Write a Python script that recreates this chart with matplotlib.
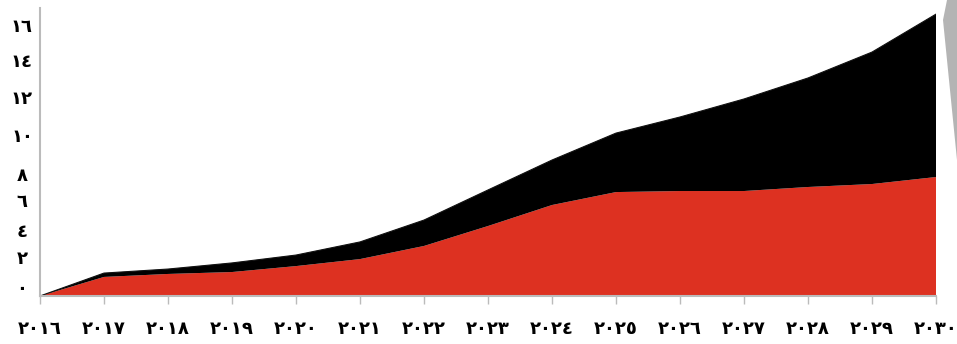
import matplotlib
matplotlib.use("Agg")
import matplotlib.pyplot as plt
from matplotlib.patches import Polygon

# years on the x axis and their Arabic-Indic labels
years = list(range(2016, 2031))
year_labels = ["٢٠١٦", "٢٠١٧", "٢٠١٨", "٢٠١٩", "٢٠٢٠", "٢٠٢١", "٢٠٢٢", "٢٠٢٣",
               "٢٠٢٤", "٢٠٢٥", "٢٠٢٦", "٢٠٢٧", "٢٠٢٨", "٢٠٢٩", "٢٠٣٠"]

# lower (red) layer and total height
red_vals = [0, 1.09, 1.26, 1.37, 1.71, 2.11, 2.86, 4.0, 5.2, 5.94, 6.0, 6.0, 6.23, 6.4, 6.8]
total_vals = [0, 1.31, 1.54, 1.89, 2.34, 3.09, 4.34, 6.06, 7.77, 9.31, 10.23, 11.26, 12.46, 13.94, 16.11]
black_vals = [t - r for t, r in zip(total_vals, red_vals)]

# y labels sit where the original put them (not evenly spaced)
ytick_pos = [0.51, 2.23, 3.77, 5.49, 6.97, 9.2, 11.37, 13.49, 15.49]
ytick_labels = ["٠", "٢", "٤", "٦", "٨", "١٠", "١٢", "١٤", "١٦"]

W, H = 957, 344
fig = plt.figure(figsize=(W / 100, H / 100), dpi=100)
ax = fig.add_axes([40 / W, (H - 296) / H, (936 - 40) / W, (296 - 8) / H])

ax.stackplot(years, red_vals, black_vals, colors=["#DD3121", "#000000"], linewidth=0)
ax.plot(years, total_vals, color="#111111", lw=0.8)

ax.set_xlim(2016, 2030)
ax.set_ylim(0, 16.46)

ax.set_xticks(years)
ax.set_xticklabels(year_labels, fontsize=13, fontweight="bold", family=["DejaVu Sans"])
ax.tick_params(axis="x", direction="out", length=6, width=1, color="#BBBBBB", pad=11)

ax.set_yticks(ytick_pos)
ax.set_yticklabels(ytick_labels, fontsize=13, fontweight="bold", family=["DejaVu Sans"])
ax.tick_params(axis="y", length=0, pad=13)
for lab in ax.get_yticklabels():
    lab.set_horizontalalignment("center")

for side in ["top", "right"]:
    ax.spines[side].set_visible(False)
for side in ["left", "bottom"]:
    ax.spines[side].set_color("#BBBBBB")
    ax.spines[side].set_linewidth(1.5)

# grey wedge at the right edge of the original image
wedge = Polygon([(947 / W, 1.0), (1.0, 1.0), (1.0, (H - 160) / H), (943 / W, (H - 20) / H)],
                closed=True, transform=fig.transFigure, facecolor="#B4B4B4", edgecolor="none")
fig.patches.append(wedge)

fig.savefig("out.png", dpi=100)
